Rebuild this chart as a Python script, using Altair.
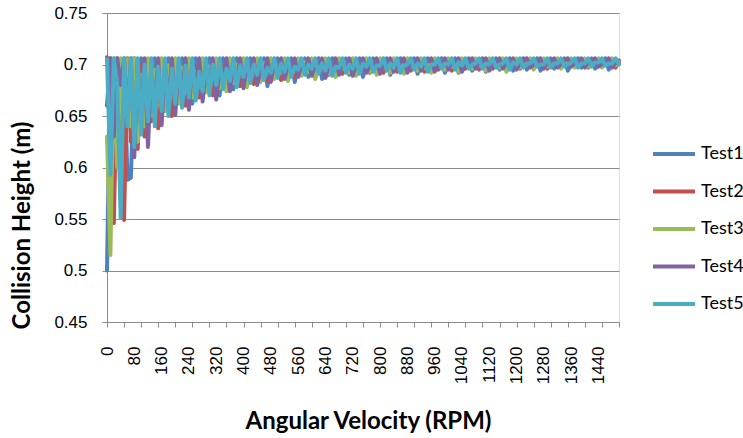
import altair as alt
import pandas as pd

# Angular velocity categories (RPM), one every 10 RPM
rpm = list(range(0, 1501, 10))

# Collision heights, in millimetres
test1 = [
    500, 706, 640, 705, 660, 706, 588, 590, 700, 640,
    706, 650, 690, 662, 706, 668, 700, 655, 706, 672,
    695, 668, 706, 678, 700, 662, 706, 685, 698, 676,
    706, 682, 694, 670, 706, 688, 700, 676, 706, 690,
    698, 680, 706, 692, 701, 684, 706, 679, 697, 693,
    706, 686, 700, 695, 706, 683, 699, 694, 706, 688,
    702, 692, 706, 686, 698, 700, 706, 689, 703, 693,
    706, 690, 699, 702, 706, 688, 701, 694, 706, 697,
    700, 703, 706, 690, 698, 705, 706, 692, 701, 698,
    706, 691, 702, 696, 706, 693, 699, 704, 706, 692,
    701, 697, 706, 692, 703, 698, 706, 694, 700, 704,
    706, 693, 701, 699, 706, 695, 703, 700, 706, 694,
    700, 704, 706, 695, 702, 700, 706, 694, 699, 703,
    706, 696, 702, 701, 706, 694, 700, 704, 706, 697,
    702, 701, 706, 696, 699, 704, 706, 695, 702, 701,
    704,
]
test2 = [
    707, 690, 546, 706, 640, 549, 706, 625, 706, 618,
    700, 630, 705, 645, 690, 638, 704, 660, 697, 650,
    705, 665, 692, 660, 704, 670, 698, 668, 705, 682,
    690, 670, 704, 680, 699, 675, 705, 686, 696, 679,
    704, 688, 697, 681, 705, 690, 700, 684, 704, 696,
    693, 685, 705, 698, 701, 688, 704, 690, 697, 702,
    705, 688, 700, 694, 704, 690, 697, 703, 705, 691,
    699, 697, 704, 690, 702, 695, 705, 692, 698, 704,
    704, 692, 700, 697, 705, 693, 699, 703, 704, 694,
    700, 698, 705, 693, 702, 700, 704, 695, 699, 705,
    705, 694, 701, 700, 704, 696, 700, 698, 705, 695,
    701, 700, 704, 696, 699, 705, 705, 695, 700, 699,
    704, 696, 700, 703, 705, 697, 701, 700, 704, 696,
    700, 703, 705, 697, 701, 700, 704, 698, 700, 705,
    705, 697, 700, 701, 704, 698, 701, 704, 705, 697,
    703,
]
test3 = [
    630, 515, 706, 600, 706, 650, 705, 640, 706, 625,
    690, 640, 706, 650, 695, 660, 706, 655, 699, 668,
    706, 662, 697, 672, 706, 668, 693, 678, 706, 673,
    698, 684, 706, 677, 692, 674, 706, 682, 700, 688,
    706, 678, 696, 690, 706, 683, 701, 691, 706, 686,
    699, 692, 706, 684, 695, 694, 706, 689, 702, 693,
    706, 686, 697, 695, 706, 691, 700, 688, 706, 696,
    701, 692, 706, 689, 697, 699, 706, 693, 702, 690,
    706, 698, 699, 692, 706, 696, 702, 691, 706, 699,
    698, 694, 706, 697, 700, 692, 706, 700, 697, 695,
    706, 698, 701, 693, 706, 700, 698, 696, 706, 699,
    699, 694, 706, 700, 701, 697, 706, 693, 702, 701,
    706, 697, 699, 700, 706, 695, 701, 703, 706, 698,
    700, 704, 706, 696, 702, 701, 706, 697, 699, 703,
    706, 698, 701, 702, 706, 697, 700, 704, 706, 699,
    702,
]
test4 = [
    660, 706, 630, 706, 680, 705, 650, 706, 610, 705,
    640, 706, 620, 695, 652, 706, 641, 700, 660, 706,
    651, 698, 668, 706, 656, 700, 672, 706, 664, 694,
    678, 706, 666, 697, 682, 706, 674, 699, 685, 706,
    677, 700, 688, 706, 680, 695, 691, 706, 683, 701,
    692, 706, 686, 698, 694, 706, 688, 700, 695, 706,
    689, 700, 693, 706, 687, 699, 696, 706, 690, 702,
    695, 706, 689, 700, 697, 706, 692, 699, 698, 706,
    691, 701, 696, 706, 693, 698, 702, 706, 692, 700,
    697, 706, 694, 701, 703, 706, 693, 699, 698, 706,
    695, 702, 699, 706, 693, 700, 704, 706, 696, 701,
    703, 706, 694, 700, 699, 706, 696, 702, 700, 706,
    695, 701, 704, 706, 697, 700, 700, 706, 696, 702,
    702, 706, 697, 700, 704, 706, 698, 701, 701, 706,
    697, 702, 704, 706, 698, 700, 700, 706, 697, 702,
    701,
]
test5 = [
    705, 593, 706, 680, 551, 706, 640, 706, 620, 706,
    632, 700, 645, 706, 640, 698, 655, 706, 650, 696,
    662, 706, 658, 699, 668, 706, 665, 693, 674, 706,
    670, 700, 680, 706, 676, 696, 684, 706, 678, 699,
    688, 706, 682, 700, 690, 706, 685, 697, 692, 706,
    687, 701, 693, 706, 688, 698, 695, 706, 690, 700,
    696, 706, 691, 701, 694, 706, 689, 698, 697, 706,
    692, 700, 696, 706, 691, 701, 698, 706, 693, 699,
    699, 706, 694, 701, 697, 706, 692, 699, 700, 706,
    695, 701, 698, 706, 693, 700, 700, 706, 696, 701,
    700, 706, 695, 702, 699, 706, 696, 700, 701, 706,
    696, 701, 700, 706, 697, 700, 701, 706, 695, 702,
    700, 706, 697, 701, 701, 706, 698, 700, 700, 706,
    697, 701, 701, 706, 698, 700, 702, 706, 697, 701,
    701, 706, 698, 702, 702, 706, 699, 701, 701, 706,
    700,
]

series_names = ["Test1", "Test2", "Test3", "Test4", "Test5"]
series_values = [test1, test2, test3, test4, test5]
series_colors = ["#4F81BD", "#C0504D", "#9BBB59", "#8064A2", "#4BACC6"]

y_ticks = [0.45, 0.5, 0.55, 0.6, 0.65, 0.7, 0.75]
# labels every 8 categories (80 RPM), tick marks every 5 categories (50 RPM)
x_label_values = list(range(0, 1441, 80))
x_tick_values = list(range(0, 1501, 50))
x_axis_values = sorted(set(x_label_values) | set(x_tick_values))

rows = []
for order, (name, vals) in enumerate(zip(series_names, series_values)):
    assert len(vals) == len(rpm), (name, len(vals))
    for r, v in zip(rpm, vals):
        rows.append({"Series": name, "order": order, "RPM": r, "Height": v / 1000.0})
df = pd.DataFrame(rows)

grey = "#8C8C8C"

chart = (
    alt.Chart(df)
    .mark_line(strokeWidth=4, strokeJoin="round", strokeCap="round")
    .encode(
        x=alt.X(
            "RPM:Q",
            scale=alt.Scale(domain=[0, 1500], nice=False, zero=False),
            axis=alt.Axis(
                title="Angular Velocity (RPM)",
                values=x_axis_values,
                labelExpr="datum.value % 80 === 0 ? datum.label : ''",
                format="d",
                labelAngle=270,
                labelFont="Liberation Sans",
                labelFontSize=17,
                labelColor="#000000",
                labelPadding=19,
                tickSize=5,
                tickColor=grey,
                tickOpacity={"condition": {"test": "datum.value % 50 === 0", "value": 1}, "value": 0},
                domainColor=grey,
                grid=False,
                labelOverlap=False,
                titleFont="Lato",
                titleFontSize=24,
                titleFontWeight="bold",
                titleColor="#000000",
                titleX=261,
                titleY=106,
                titleBaseline="alphabetic",
            ),
        ),
        y=alt.Y(
            "Height:Q",
            scale=alt.Scale(domain=[0.45, 0.75], nice=False, zero=False),
            axis=alt.Axis(
                title="Collision Height (m)",
                values=y_ticks,
                format=".2~f",
                labelFont="Liberation Sans",
                labelFontSize=17,
                labelColor="#000000",
                labelPadding=15,
                tickSize=5,
                tickColor=grey,
                domainColor=grey,
                grid=True,
                gridColor=grey,
                gridWidth=1,
                titleFont="Lato",
                titleFontSize=24,
                titleFontWeight="bold",
                titleColor="#000000",
                titleAngle=270,
                titleX=-85,
                titleY=212,
                titleBaseline="middle",
            ),
        ),
        color=alt.Color(
            "Series:N",
            scale=alt.Scale(domain=series_names, range=series_colors),
            legend=alt.Legend(
                title=None,
                orient="none",
                legendX=544,
                legendY=118,
                symbolType="stroke",
                symbolSize=1764,
                symbolStrokeWidth=4,
                labelFont="Lato",
                labelFontSize=18,
                labelColor="#000000",
                labelOffset=4,
                rowPadding=5.5,
            ),
        ),
        order=alt.Order("order:Q"),
        detail="Series:N",
    )
    .properties(
        width=512,
        height=309,
        padding={"left": 107, "top": 13, "right": 124, "bottom": 116},
        autosize=alt.AutoSizeParams(type="none"),
    )
    .configure_view(stroke=None)
    .configure(background="white")
)

chart.save("out.html", embed_options={"renderer": "svg", "actions": False})
